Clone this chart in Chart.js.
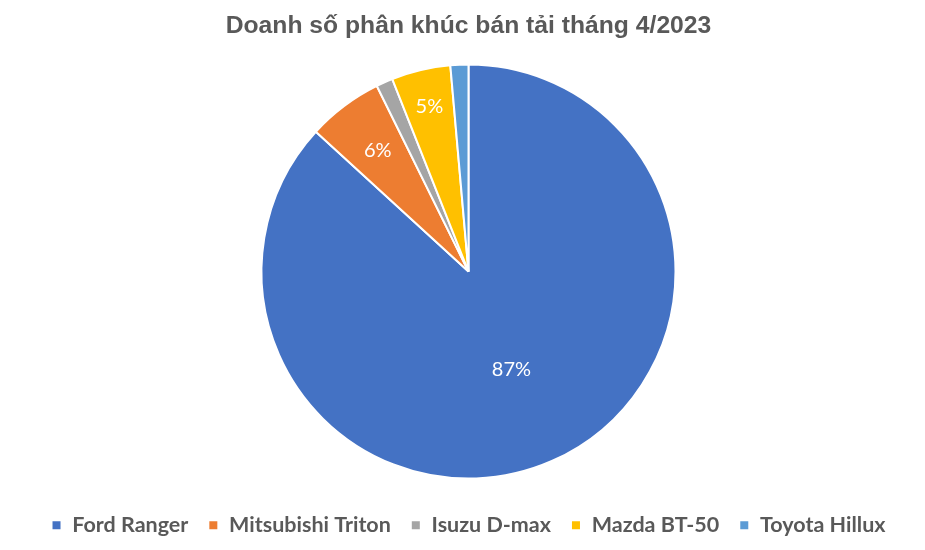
<!DOCTYPE html>
<html lang="vi">
<head>
<meta charset="UTF-8">
<title>Doanh số phân khúc bán tải tháng 4/2023</title>
<style>
body { margin: 0; background: #fff; }
</style>
</head>
<body>
<canvas id="pieChart" width="925" height="550"></canvas>

<script src="https://cdn.jsdelivr.net/npm/chart.js"></script>
<script>
// Data (share of sales, %)
const models = ['Ford Ranger', 'Mitsubishi Triton', 'Isuzu D-max', 'Mazda BT-50', 'Toyota Hillux'];
const shares = [86.8, 5.9, 1.3, 4.6, 1.4];
const shownLabels = ['87%', '6%', '', '5%', ''];

const colors = ['#4472C4', '#ED7D31', '#A5A5A5', '#FFC000', '#5B9BD5'];
// how far out (fraction of radius) each percentage sits
const labelRadius = [0.515, 0.73, 0.7, 0.82, 0.7];

const sliceLabels = {
    id: 'sliceLabels',
    afterDatasetsDraw(chart) {
        const ctx = chart.ctx;
        const arcs = chart.getDatasetMeta(0).data;
        ctx.save();
        ctx.fillStyle = '#fff';
        ctx.font = '20px Lato, "Open Sans", sans-serif';
        ctx.textAlign = 'center';
        ctx.textBaseline = 'middle';
        arcs.forEach((arc, i) => {
            if (!shownLabels[i]) return;
            const p = arc.getProps(['x', 'y', 'startAngle', 'endAngle', 'outerRadius'], true);
            const mid = (p.startAngle + p.endAngle) / 2;
            const r = p.outerRadius * labelRadius[i];
            ctx.fillText(shownLabels[i], p.x + Math.cos(mid) * r, p.y + Math.sin(mid) * r);
        });
        ctx.restore();
    }
};

new Chart(document.getElementById('pieChart'), {
    type: 'pie',
    data: {
        labels: models,
        datasets: [{
            data: shares,
            backgroundColor: colors,
            borderColor: '#fff',
            borderWidth: 2,
            radius: 207
        }]
    },
    options: {
        responsive: false,
        animation: false,
        devicePixelRatio: 1,
        layout: { padding: { left: 12, right: 0, top: 0, bottom: 4 } },
        plugins: {
            title: {
                display: true,
                text: 'Doanh số phân khúc bán tải tháng 4/2023',
                color: '#595959',
                font: { family: '"Liberation Sans", Arial, sans-serif', size: 24.7, weight: 'bold' },
                padding: { top: 11, bottom: 8 }
            },
            legend: {
                position: 'bottom',
                labels: {
                    color: '#595959',
                    boxWidth: 10,
                    boxHeight: 10,
                    padding: 20,
                    font: { family: 'Lato, "Open Sans", sans-serif', size: 21.5, weight: 'bold' }
                }
            },
            tooltip: { enabled: false }
        }
    },
    plugins: [sliceLabels]
});
</script>
</body>
</html>
